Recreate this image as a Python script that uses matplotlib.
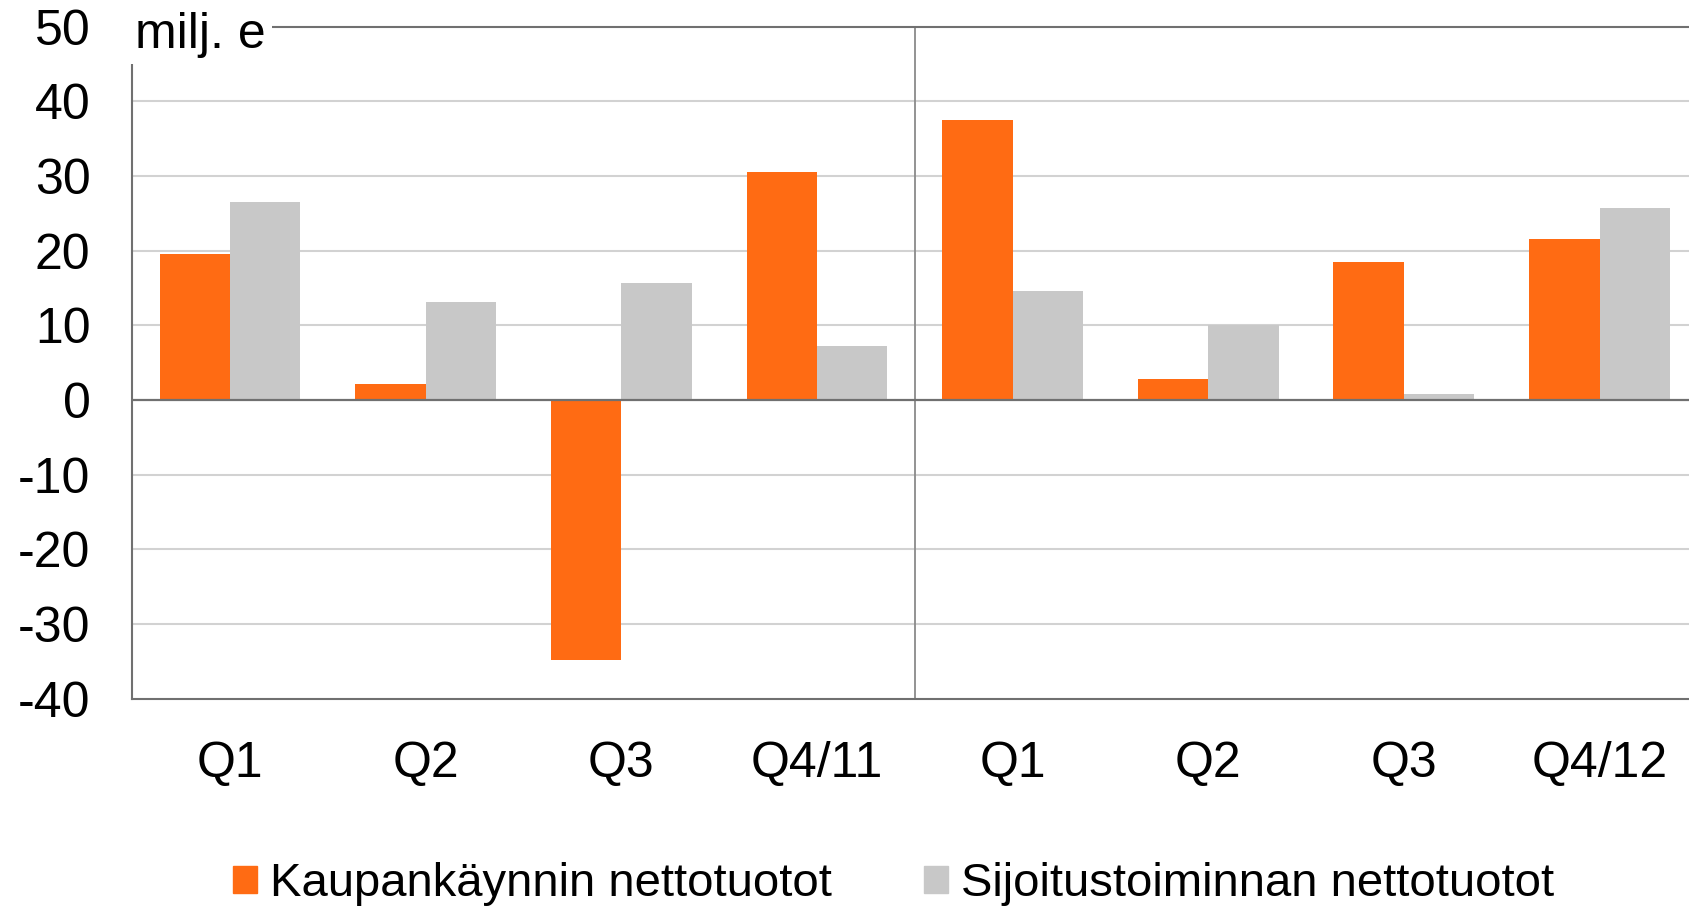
import matplotlib
matplotlib.use("Agg")
import matplotlib.pyplot as plt
import numpy as np
from matplotlib.patches import Patch

plt.rcParams['font.family'] = ['Liberation Sans', 'DejaVu Sans']

categories = ["Q1", "Q2", "Q3", "Q4/11", "Q1", "Q2", "Q3", "Q4/12"]
kaupankaynti = [19.6, 2.1, -34.8, 30.5, 37.5, 2.8, 18.5, 21.6]
sijoitus = [26.5, 13.1, 15.7, 7.2, 14.6, 10.0, 0.8, 25.7]
series_names = ["Kaupankäynnin nettotuotot", "Sijoitustoiminnan nettotuotot"]
yticks = [50, 40, 30, 20, 10, 0, -10, -20, -30, -40]
ytick_labels = ["50", "40", "30", "20", "10", "0", "-10", "-20", "-30", "-40"]
unit_label = "milj. e"

ORANGE = "#FF6B13"
GRAY = "#C8C8C8"
DARK = "#707070"
GRID = "#D2D2D2"
FS_TICK = 36
FS_LEG = 34

W, H = 1689, 908
fig = plt.figure(figsize=(W / 100, H / 100), dpi=100)
left = 132.2 / W
right = 1697.4 / W
bottom = (H - 698.6) / H
top = (H - 26.7) / H
ax = fig.add_axes([left, bottom, right - left, top - bottom])

x = np.arange(len(categories))
bw = 0.36
ax.bar(x - bw / 2, kaupankaynti, width=bw, color=ORANGE, zorder=3, label=series_names[0])
ax.bar(x + bw / 2, sijoitus, width=bw, color=GRAY, zorder=3, label=series_names[1])

ax.set_xlim(-0.5, len(categories) - 0.5)
ax.set_ylim(-40, 50)

for v in yticks:
    if v in (50, -40, 0):
        continue
    ax.axhline(v, color=GRID, lw=1.5, zorder=1)
ax.axhline(0, color=DARK, lw=1.6, zorder=4)
ax.axvline(3.5, color="#8A8A8A", lw=1.3, zorder=2)

for s in ["left", "bottom", "top"]:
    ax.spines[s].set_color(DARK)
    ax.spines[s].set_linewidth(1.5)
ax.spines["right"].set_visible(False)

ax.set_yticks(yticks)
ax.set_yticklabels(ytick_labels, fontsize=FS_TICK)
ax.set_xticks(x)
ax.set_xticklabels(categories, fontsize=FS_TICK)
ax.tick_params(axis="y", length=0, pad=30)
ax.tick_params(axis="x", length=0, pad=30.5)

fig.text(135 / W, 1 - 47.5 / H, unit_label, fontsize=FS_TICK, va="baseline", ha="left",
         bbox=dict(boxstyle="square,pad=0.12", fc="white", ec="none"), zorder=10)

handles = [Patch(color=ORANGE), Patch(color=GRAY)]
fig.legend(handles, series_names, loc="center", bbox_to_anchor=(0.529, 0.026),
           ncol=2, frameon=False, fontsize=FS_LEG, handlelength=0.5, handleheight=0.5,
           handletextpad=0.28, columnspacing=1.95, borderaxespad=0, borderpad=0)

fig.savefig("out.png", dpi=100)
